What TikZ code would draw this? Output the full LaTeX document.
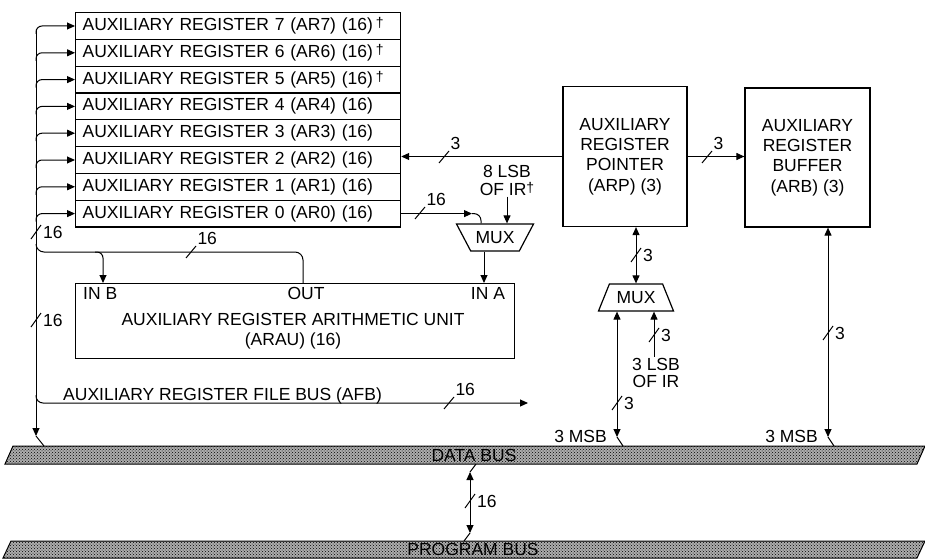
\documentclass[tikz,border=0pt]{standalone}
\usepackage{fontspec}
\setmainfont{Liberation Sans}
\usetikzlibrary{positioning,arrows.meta,shapes.geometric,patterns}
\tikzset{
  wire/.style={line width=1pt},
  reg/.style={draw,line width=1.2pt,anchor=north west,minimum width=325pt,
    minimum height=26.8pt,text width=311pt,inner xsep=7pt,inner ysep=0pt,align=left},
  blk/.style={draw,line width=1.2pt,align=center,inner sep=0pt},
  mux/.style={draw,line width=1.2pt,trapezium,trapezium stretches body,
    minimum height=27pt,inner xsep=0pt},
  pair/.style={align=center,inner sep=1pt,font=\fontsize{17.5}{17.5}\selectfont},
  bus/.style={draw,line width=1pt,fill=black!32,
    postaction={pattern=crosshatch dots,pattern color=black}}
}
\newcommand{\sdag}{{\fontsize{14}{14}\selectfont\raisebox{3pt}{\dag}}}
% width marks on the buses
\newcommand{\hwidth}[3]{\draw[wire] (#1-5,#2+6) -- (#1+5,#2-6)
  node[anchor=south west,inner sep=1pt] {#3};}
\newcommand{\vwidth}[3]{\draw[wire] (#1-5,#2+7) -- (#1+5,#2-7);
  \node[anchor=west,inner sep=2pt] at (#1+5,#2) {#3};}
\begin{document}
\begin{tikzpicture}[x=1pt,y=-1pt,>={Triangle[length=8pt,width=7pt]},
  font=\fontsize{17.5}{20.3}\selectfont]
\useasboundingbox (0,0) rectangle (925,559);

% buses
\path[bus] (5,464) -- (13,446) -- (925,446) -- (917,464) -- cycle;
\node (dbus) at (474,455.5) {DATA BUS};
\path[bus] (3,558) -- (11,541) -- (925,541) -- (917,558) -- cycle;
\node (pbus) at (473,549.5) {PROGRAM BUS};

% register file
\foreach \i in {7,...,0}
  \node[reg] (ar\i) at (75,{12+(7-\i)*26.8})
    {AUXILIARY REGISTER \i\ (AR\i) (16)\ifnum\i>4\,\sdag\fi};
\foreach \i in {0,...,7}
  \draw[wire,->,rounded corners=6pt] (ar\i.west) ++(-39,8) -- ++(0,-8) -- (ar\i.west);
\coordinate (lbtop) at (36,31);
\coordinate (lbend) at (36,436);
\draw[wire,->] (lbtop) -- (lbend);
\draw[wire] (lbend) -- (44,446);
\vwidth{36}{232}{16}
\vwidth{36}{320}{16}

% ARAU
\node[blk,anchor=north west,minimum width=439pt,minimum height=75pt] (arau) at (75,283) {};
\node[anchor=west,inner sep=0pt] (inb) at (83,293.5) {IN B};
\node[inner sep=0pt] (outl) at (306,293.5) {OUT};
\node[inner sep=0pt] (ina) at (488,293.5) {IN A};
\node[align=center] (araut) at (293,331.5) {AUXILIARY REGISTER ARITHMETIC UNIT\\(ARAU) (16)};
\draw[wire,rounded corners=8pt] (303,0 |- arau.north) -- (303,252) -- (36,252) -- (36,244);
\draw[wire,->,rounded corners=6pt] (95,252) -- (103,252) -- (103,0 |- arau.north);
\hwidth{191}{252}{16}

% AFB
\draw[wire,->,rounded corners=7pt] (36,395) -- (36,403) -- (528,403);
\node[anchor=base west,inner sep=0pt] (afb) at (63,400) {AUXILIARY REGISTER FILE BUS (AFB)};
\hwidth{449}{403}{16}

% MUX into IN A
\node[mux,trapezium angle=53,shape border rotate=180,minimum width=77pt] (mux1) at (495,237.5) {MUX};
\draw[wire,->] (484,0 |- mux1.south) -- (484,0 |- arau.north);
\draw[wire,->] (ar0.east) -- (472,0 |- ar0.east);
\draw[wire,rounded corners=7pt] (472,0 |- ar0.east) -- (481,0 |- ar0.east) -- (481,0 |- mux1.north);
\hwidth{420}{213}{16}
\node[pair] (lsb8) at (507,180.5) {8 LSB\\OF IR\sdag};
\draw[wire,->] (lsb8.south) -- (lsb8.south |- mux1.north);

% ARP and ARB
\node[blk,minimum width=124pt,minimum height=140pt] (arp) at (625,156.5) {AUXILIARY\\REGISTER\\POINTER\\(ARP) (3)};
\node[blk,minimum width=125pt,minimum height=139pt] (arb) at (807.5,157.5) {AUXILIARY\\REGISTER\\BUFFER\\(ARB) (3)};
\draw[wire,->] (arp.west) -- (arp.west -| ar2.east);
\hwidth{444}{157}{3}
\draw[wire,->] (arp.east) -- (arp.east -| arb.west);
\hwidth{707}{157}{3}

% MUX into ARP
\node[mux,trapezium angle=60,minimum width=75pt] (mux2) at (636,297.5) {MUX};
\draw[wire,<->] (mux2.north) -- (mux2.north |- arp.south);
\vwidth{636}{255}{3}
\coordinate (msba) at (617,437);
\draw[wire,<->] (617,0 |- mux2.south) -- (msba);
\draw[wire] (msba) -- (623,446);
\node[anchor=east,inner sep=0pt] (msbal) at (607,436.5) {3 MSB};
\vwidth{617}{403}{3}
\node[pair] (lsb3) at (656,373) {3 LSB\\OF IR};
\draw[wire,->] (lsb3.north -| 654,0) -- (654,0 |- mux2.south);
\vwidth{654}{335}{3}

% ARB to data bus
\coordinate (msbb) at (828,437);
\draw[wire,<->] (828,0 |- arb.south) -- (msbb);
\draw[wire] (msbb) -- (834,446);
\node[anchor=east,inner sep=0pt] (msbbl) at (818,436.5) {3 MSB};
\vwidth{828}{333}{3}

% data bus to program bus
\coordinate (dbl) at (470,472);
\coordinate (pbl) at (470,533);
\draw[wire,<->] (dbl) -- (pbl);
\draw[wire] (dbl) -- (476,464);
\draw[wire] (pbl) -- (464,541);
\vwidth{470}{501}{16}
\end{tikzpicture}
\end{document}
